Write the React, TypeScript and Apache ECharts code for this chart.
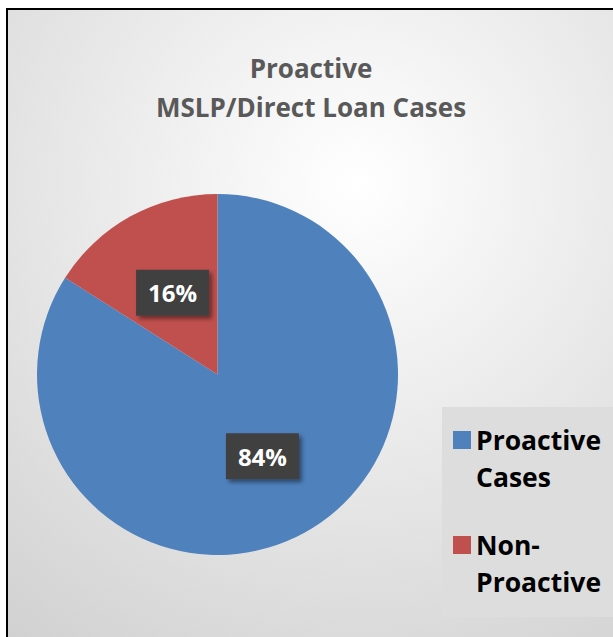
import React, { useEffect, useRef } from "react";
import * as echarts from "echarts";

const categories = ["Proactive Cases", "Non-Proactive"];
const values = [84, 16];
const colors = ["#4F81BD", "#C0504D"];
const legendLabels: Record<string, string> = {
  "Proactive Cases": "Proactive\nCases",
  "Non-Proactive": "Non-\nProactive",
};
const titleText = "Proactive\nMSLP/Direct Loan Cases";

const FONT = "'Open Sans', Lato, sans-serif";

export default function App() {
  const ref = useRef<HTMLDivElement>(null);
  useEffect(() => {
    if (!ref.current) return;
    const chart = echarts.init(ref.current, null, { renderer: "svg" });
    const L = 37;
    const legendText = {
      fontFamily: FONT,
      fontWeight: "bold" as const,
      fontSize: 26.5,
      color: "#000",
      lineHeight: L,
    };
    const fmt = (n: string) => "\n" + (legendLabels[n] ?? n);
    chart.setOption({
      animation: false,
      backgroundColor: "#ffffff",
      title: {
        text: titleText,
        left: 311,
        top: 48,
        padding: 0,
        textAlign: "center",
        textStyle: {
          fontFamily: FONT,
          fontWeight: "bold",
          fontSize: 26,
          lineHeight: 39,
          color: "#595959",
        },
      },
      graphic: [
        {
          type: "rect",
          z: -10,
          shape: { x: 7, y: 9, width: 700, height: 700 },
          style: {
            fill: new echarts.graphic.RadialGradient(0.5, 0.25, 0.85, [
              { offset: 0, color: "#ffffff" },
              { offset: 1, color: "#cfcfcf" },
            ]),
            stroke: "#000",
            lineWidth: 2,
          },
        },
        {
          type: "rect",
          z: -5,
          shape: { x: 442, y: 407, width: 200, height: 210 },
          style: { fill: "#dddddd" },
        },
      ],
      legend: [
        {
          data: [categories[0]],
          orient: "vertical",
          left: 453,
          top: 440 - 1.5 * L,
          padding: 0,
          itemWidth: 18,
          itemHeight: 18,
          icon: "rect",
          selectedMode: false,
          formatter: fmt,
          textStyle: legendText,
        },
        {
          data: [categories[1]],
          orient: "vertical",
          left: 453,
          top: 545 - 1.5 * L,
          padding: 0,
          itemWidth: 18,
          itemHeight: 18,
          icon: "rect",
          selectedMode: false,
          formatter: fmt,
          textStyle: legendText,
        },
      ],
      series: [
        {
          type: "pie",
          center: [217.5, 374.5],
          radius: [0, 180.5],
          startAngle: 90,
          clockwise: true,
          data: categories.map((c, i) => ({
            name: c,
            value: values[i],
            itemStyle: { color: colors[i] },
          })),
          itemStyle: { borderWidth: 0 },
          emphasis: { disabled: true },
          label: {
            show: true,
            position: "inside",
            formatter: (p: any) => `${p.value}%`,
            fontFamily: FONT,
            fontWeight: "bold",
            fontSize: 24,
            color: "#ffffff",
            backgroundColor: "#404040",
            width: 73,
            height: 46,
            lineHeight: 46,
            align: "center",
            verticalAlign: "middle",
            shadowColor: "rgba(0,0,0,0.45)",
            shadowBlur: 4,
            shadowOffsetX: 3,
            shadowOffsetY: 3,
          },
          labelLine: { show: false },
        },
      ],
    });
    return () => chart.dispose();
  }, []);
  return (
    <div
      ref={ref}
      style={{ position: "fixed", left: 0, top: 0, width: 613, height: 637 }}
    />
  );
}
